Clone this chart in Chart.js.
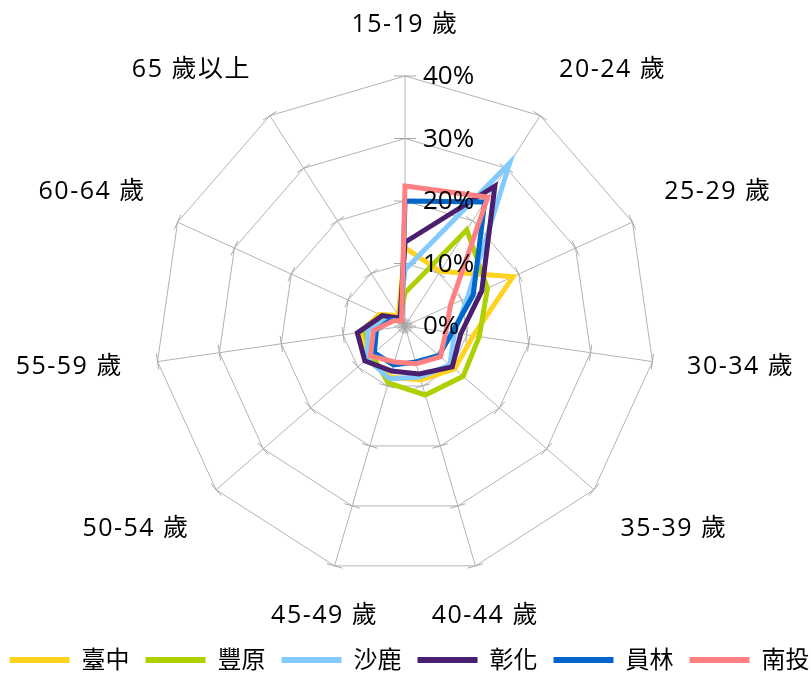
<!DOCTYPE html>
<html><head><meta charset="utf-8">
<script src="https://cdn.jsdelivr.net/npm/chart.js@4.4.1/dist/chart.umd.min.js"></script>
<style>html,body{margin:0;padding:0;background:#fff;}</style>
</head><body>
<canvas id="c" width="811" height="678" style="display:block;width:811px;height:678px"></canvas>
<script>
const categories = ['15-19 歲','20-24 歲','25-29 歲','30-34 歲','35-39 歲','40-44 歲','45-49 歲','50-54 歲','55-59 歲','60-64 歲','65 歲以上'];
const tickValues = [0, 10, 20, 30, 40];
const seriesNames = ['臺中','豐原','沙鹿','彰化','員林','南投'];
const taichung = [12.5, 10.4, 19.0, 11.0, 10.5, 9.0, 8.5, 8.0, 7.2, 4.5, 2.0];
const fengyuan = [5.3, 18.3, 14.5, 12.0, 12.3, 11.5, 9.5, 7.0, 6.5, 4.0, 1.5];
const shalu    = [9.0, 31.0, 11.0, 8.0, 9.5, 8.5, 8.8, 8.0, 6.0, 3.0, 1.5];
const changhua = [13.4, 26.6, 13.5, 9.0, 10.0, 8.0, 7.5, 8.5, 7.7, 4.0, 1.5];
const yuanlin  = [20.0, 23.6, 12.0, 7.6, 7.2, 6.0, 6.5, 6.5, 4.6, 2.5, 1.0];
const nantou   = [22.4, 24.5, 8.0, 6.6, 7.5, 6.3, 6.0, 7.3, 5.1, 2.0, 1.0];
const colors = ['#FFD320','#AECF00','#83CAFF','#4B1F6F','#0066CC','#FF8080'];
const allSeries = [taichung, fengyuan, shalu, changhua, yuanlin, nantou];

const FONT = "'Open Sans','Noto Sans CJK TC',sans-serif";

const decor = {
  id: 'decor',
  beforeDatasetsDraw(chart) {
    const s = chart.scales.r, ctx = chart.ctx;
    const n = chart.data.labels.length;
    ctx.save();
    ctx.strokeStyle = '#a8a8a8';
    ctx.lineWidth = 1;
    for (let i = 0; i < n; i++) {
      const a = s.getIndexAngle(i) - Math.PI / 2;
      const px = -Math.sin(a), py = Math.cos(a);
      for (const v of tickValues) {
        const p = s.getPointPositionForValue(i, v);
        const L = i === 0 ? 11 : 8;
        ctx.beginPath();
        ctx.moveTo(p.x - px * L, p.y - py * L);
        ctx.lineTo(p.x + px * L, p.y + py * L);
        ctx.stroke();
      }
    }
    ctx.restore();
  },
  afterDraw(chart) {
    const s = chart.scales.r, ctx = chart.ctx;
    ctx.save();
    // tick labels
    ctx.fillStyle = '#000';
    ctx.font = "26px " + FONT;
    ctx.textAlign = 'left';
    ctx.textBaseline = 'middle';
    for (const v of tickValues) {
      const p = s.getPointPositionForValue(0, v);
      ctx.fillText(v + '%', p.x + 18, p.y + 1);
    }
    // point labels
    ctx.font = "25px " + FONT;
    try { ctx.letterSpacing = '1.5px'; } catch (e) {}
    ctx.textAlign = 'center';
    const h = 32, pad = 35;
    chart.data.labels.forEach((lab, i) => {
      const th = s.getIndexAngle(i);
      const ux = Math.sin(th), uy = -Math.cos(th);
      const w = ctx.measureText(lab).width;
      const p = s.getPointPosition(i, s.drawingArea + pad);
      const sx = Math.abs(ux) < 0.3 ? 0 : Math.sign(ux);
      const sy = Math.abs(uy) < 0.3 ? 0 : Math.sign(uy);
      ctx.fillText(lab, p.x + sx * w / 2, p.y + sy * h / 2);
    });
    try { ctx.letterSpacing = '0px'; } catch (e) {}
    // legend
    ctx.font = "24px " + FONT;
    const sw = 60, gap = 12, itemPad = 16;
    const items = chart.data.datasets.map(d => ({label: d.label, color: d.borderColor, tw: ctx.measureText(d.label).width}));
    const total = items.reduce((acc, it) => acc + sw + gap + it.tw, 0) + itemPad * (items.length - 1);
    let x = (chart.width - total) / 2 + 4;
    const y = 660;
    ctx.textAlign = 'left';
    items.forEach(it => {
      ctx.strokeStyle = it.color;
      ctx.lineWidth = 6;
      ctx.beginPath();
      ctx.moveTo(x, y); ctx.lineTo(x + sw, y);
      ctx.stroke();
      ctx.fillStyle = '#000';
      ctx.fillText(it.label, x + sw + gap, y + 1);
      x += sw + gap + it.tw + itemPad;
    });
    ctx.restore();
  }
};

const datasets = allSeries.map((data, i) => ({
  label: seriesNames[i],
  data: data,
  borderColor: colors[i],
  backgroundColor: colors[i],
  borderWidth: 5,
  fill: false,
  pointRadius: 0,
  pointHoverRadius: 0,
  tension: 0,
  borderJoinStyle: 'miter',
  order: allSeries.length - i
}));

new Chart(document.getElementById('c'), {
  type: 'radar',
  data: { labels: categories, datasets },
  options: {
    responsive: false,
    animation: false,
    devicePixelRatio: 1,
    layout: { padding: { left: 155, right: 156, top: 76, bottom: 102 } },
    plugins: { legend: { display: false }, tooltip: { enabled: false } },
    elements: { line: { borderJoinStyle: 'miter' } },
    scales: {
      r: {
        min: 0, max: 40,
        ticks: { stepSize: 10, display: false, showLabelBackdrop: false },
        pointLabels: { display: false },
        grid: { circular: false, color: '#b3b3b3', lineWidth: 1 },
        angleLines: { display: true, color: '#b3b3b3', lineWidth: 1 }
      }
    }
  },
  plugins: [decor]
});
</script>
</body></html>
